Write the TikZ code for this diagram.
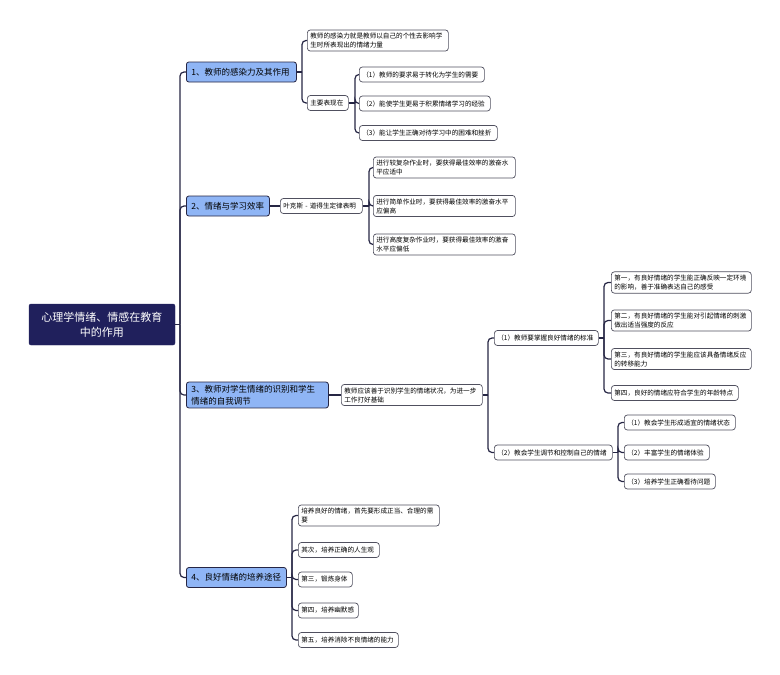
\documentclass[tikz,border=0pt]{standalone}
\usepackage{fontspec}
\setmainfont{Noto Sans CJK SC}
\usetikzlibrary{calc}
\definecolor{navy}{RGB}{32,32,92}
\definecolor{lblue}{RGB}{143,181,245}
\definecolor{edgec}{RGB}{38,38,68}
\definecolor{bord}{RGB}{80,80,95}
\begin{document}
\begin{tikzpicture}[x=1pt,y=-1pt,
 rootbox/.style={draw=navy,fill=navy,text=white,rounded corners=2pt,align=center,font=\fontsize{11}{15}\selectfont,minimum width=146pt,minimum height=41pt,inner sep=2pt},
 lonebox/.style={draw=edgec,fill=lblue,rounded corners=2.5pt,align=left,font=\fontsize{8.5}{12}\selectfont,inner xsep=5pt,inner ysep=3pt,minimum height=20pt,anchor=west,line width=0.8pt},
 leaf/.style={draw=bord,fill=white,rounded corners=3pt,align=left,font=\fontsize{6.6}{9}\selectfont,inner xsep=3pt,inner ysep=3pt,minimum height=15pt,anchor=west,line width=0.7pt},
 conn/.style={draw=edgec,line width=1.2pt,rounded corners=4pt},
]
\useasboundingbox (0,0) rectangle (780,675);

% root
\node[rootbox] (root) at (102,324.5) {心理学情绪、情感在教育\\中的作用};

% level 1
\node[lonebox,text width=100pt] (n1) at (186,72) {1、教师的感染力及其作用};
\node[lonebox,text width=73pt] (n2) at (186,206) {2、情绪与学习效率};
\node[lonebox,text width=132pt] (n3) at (186,395) {3、教师对学生情绪的识别和学生\\情绪的自我调节};
\node[lonebox,text width=90pt] (n4) at (186,577.5) {4、良好情绪的培养途径};

% branch 1
\node[leaf,text width=135pt] (a1) at (307,40.5) {教师的感染力就是教师以自己的个性去影响学\\生时所表现出的情绪力量};
\node[leaf,text width=35pt] (a2) at (307,103) {主要表现在};
\node[leaf,text width=119pt] (b1) at (359,74.5) {（1）教师的要求易于转化为学生的需要};
\node[leaf,text width=125pt] (b2) at (359,103.5) {（2）能使学生更易于积累情绪学习的经验};
\node[leaf,text width=132pt] (b3) at (359,133) {（3）能让学生正确对待学习中的困难和挫折};

% branch 2
\node[leaf,text width=76pt] (c0) at (280,206) {叶克斯 - 道得生定律表明};
\node[leaf,text width=136pt] (c1) at (373,167.5) {进行较复杂作业时，要获得最佳效率的激奋水\\平应适中};
\node[leaf,text width=136pt] (c2) at (373,206) {进行简单作业时，要获得最佳效率的激奋水平\\应偏高};
\node[leaf,text width=136pt] (c3) at (373,244.5) {进行高度复杂作业时，要获得最佳效率的激奋\\水平应偏低};

% branch 3
\node[leaf,text width=135pt] (d0) at (341,395) {教师应该善于识别学生的情绪状况，为进一步\\工作打好基础};
\node[leaf,text width=98pt] (e1) at (494,338) {（1）教师要掌握良好情绪的标准};
\node[leaf,text width=112pt] (e2) at (494,452.5) {（2）教会学生调节和控制自己的情绪};
\node[leaf,text width=134pt] (f1) at (611,282.5) {第一，有良好情绪的学生能正确反映一定环境\\的影响，善于准确表达自己的感受};
\node[leaf,text width=134pt] (f2) at (611,320.5) {第二，有良好情绪的学生能对引起情绪的刺激\\做出适当强度的反应};
\node[leaf,text width=134pt] (f3) at (611,359) {第三，有良好情绪的学生能应该具备情绪反应\\的转移能力};
\node[leaf,text width=121pt] (f4) at (611,393) {第四，良好的情绪应符合学生的年龄特点};
\node[leaf,text width=105pt] (g1) at (624,422.5) {（1）教会学生形成适宜的情绪状态};
\node[leaf,text width=79pt] (g2) at (624,452.5) {（2）丰富学生的情绪体验};
\node[leaf,text width=85pt] (g3) at (624,481.5) {（3）培养学生正确看待问题};

% branch 4
\node[leaf,text width=135pt] (h1) at (298,515.5) {培养良好的情绪，首先要形成正当、合理的需\\要};
\node[leaf,text width=75pt] (h2) at (298,550) {其次，培养正确的人生观};
\node[leaf,text width=48pt] (h3) at (298,579.5) {第三，锻炼身体};
\node[leaf,text width=54pt] (h4) at (298,610.5) {第四，培养幽默感};
\node[leaf,text width=94pt] (h5) at (298,640) {第五，培养消除不良情绪的能力};

% branch points
\coordinate (s0) at (180,324.5);
\coordinate (s1) at (302,72);
\coordinate (s2) at (355,103);
\coordinate (s3) at (369,206);
\coordinate (s4) at (488,395);
\coordinate (s5) at (604,338);
\coordinate (s6) at (618,452.5);
\coordinate (s7) at (292,577.5);

% connectors
\draw[conn] (root.east) -- (s0);
\foreach \c in {n1,n2,n3,n4} \draw[conn] (s0) |- (\c.west);
\draw[conn] (n1.east) -- (s1);
\foreach \c in {a1,a2} \draw[conn] (s1) |- (\c.west);
\draw[conn] (a2.east) -- (s2);
\foreach \c in {b1,b2,b3} \draw[conn] (s2) |- (\c.west);
\draw[conn] (n2.east) -- (c0.west);
\draw[conn] (c0.east) -- (s3);
\foreach \c in {c1,c2,c3} \draw[conn] (s3) |- (\c.west);
\draw[conn] (n3.east) -- (d0.west);
\draw[conn] (d0.east) -- (s4);
\foreach \c in {e1,e2} \draw[conn] (s4) |- (\c.west);
\draw[conn] (e1.east) -- (s5);
\foreach \c in {f1,f2,f3,f4} \draw[conn] (s5) |- (\c.west);
\draw[conn] (e2.east) -- (s6);
\foreach \c in {g1,g2,g3} \draw[conn] (s6) |- (\c.west);
\draw[conn] (n4.east) -- (s7);
\foreach \c in {h1,h2,h3,h4,h5} \draw[conn] (s7) |- (\c.west);
\end{tikzpicture}
\end{document}
